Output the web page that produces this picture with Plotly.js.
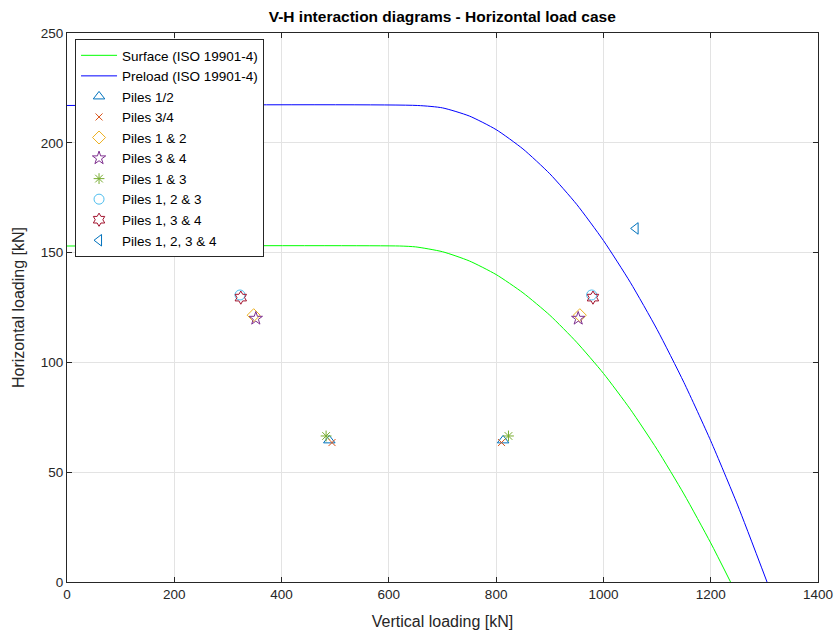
<!DOCTYPE html>
<html>
<head>
<meta charset="utf-8">
<script src="https://cdn.plot.ly/plotly-3.0.1.min.js"></script>
<style>html,body{margin:0;padding:0;background:#fff;}#chart{width:836px;height:634px;}</style>
</head>
<body>
<div id="chart"></div>
<script>
// Interaction curves
var surfaceV = [0, 620, 650, 700, 750, 800, 850, 900, 950, 1000, 1050, 1100, 1150, 1200, 1237];
var surfaceH = [153, 153, 152.6, 150.4, 146.2, 140.0, 131.7, 121.5, 109.2, 95.0, 78.7, 60.4, 40.1, 17.8, 0];
var preloadV = [0, 653, 700, 750, 800, 850, 900, 950, 1000, 1050, 1100, 1150, 1200, 1250, 1305];
var preloadH = [217, 217, 215.9, 212.2, 206.0, 197.2, 185.9, 172.0, 155.5, 136.5, 115.0, 90.9, 64.3, 35.1, 0];

// Pile load points
var piles12V = [489, 813];   var piles12H = [64.5, 64.5];
var piles34V = [494, 810];   var piles34H = [63.5, 63.5];
var piles1and2V = [348, 956]; var piles1and2H = [121.5, 121.5];
var piles3and4V = [352, 953]; var piles3and4H = [120, 120];
var piles1and3V = [483, 823]; var piles1and3H = [66.5, 66.5];
var piles123V = [322.5, 978]; var piles123H = [130.7, 130.7];
var piles134V = [324, 980.5]; var piles134H = [129.5, 129.5];
var piles1234V = [1060];      var piles1234H = [161];

var xTicks = [0, 200, 400, 600, 800, 1000, 1200, 1400];
var yTicks = [0, 50, 100, 150, 200, 250];

function pts(name, x, y, symbol, color, size) {
  return {type: 'scatter', mode: 'markers', name: name, x: x, y: y,
    marker: {symbol: symbol, size: size, color: color, line: {color: color, width: 1}}};
}

var traces = [
  {type: 'scatter', mode: 'lines', name: 'Surface (ISO 19901-4)', x: surfaceV, y: surfaceH,
   line: {color: '#00ff00', width: 1, shape: 'spline', smoothing: 0.6}},
  {type: 'scatter', mode: 'lines', name: 'Preload (ISO 19901-4)', x: preloadV, y: preloadH,
   line: {color: '#0000ff', width: 1, shape: 'spline', smoothing: 0.6}},
  pts('Piles 1/2', piles12V, piles12H, 'triangle-up-open', '#0072BD', 10),
  pts('Piles 3/4', piles34V, piles34H, 'x-thin-open', '#D95319', 7),
  pts('Piles 1 &amp; 2', piles1and2V, piles1and2H, 'diamond-open', '#EDB120', 10),
  pts('Piles 3 &amp; 4', piles3and4V, piles3and4H, 'star-open', '#7E2F8E', 10),
  pts('Piles 1 &amp; 3', piles1and3V, piles1and3H, 'asterisk-open', '#77AC30', 9),
  pts('Piles 1, 2 &amp; 3', piles123V, piles123H, 'circle-open', '#4DBEEE', 10),
  pts('Piles 1, 3 &amp; 4', piles134V, piles134H, 'hexagram-open', '#A2142F', 10),
  pts('Piles 1, 2, 3 &amp; 4', piles1234V, piles1234H, 'triangle-left-open', '#0072BD', 10)
];

var axCommon = {
  showline: true, linecolor: '#262626', linewidth: 1, mirror: 'ticks',
  ticks: 'inside', ticklen: 5, tickcolor: '#262626', tickwidth: 1,
  showgrid: true, gridcolor: '#e3e3e3', gridwidth: 1, zeroline: false,
  tickfont: {family: 'Liberation Sans, Arial, sans-serif', size: 13.5, color: '#262626'}
};

var layout = {
  width: 836, height: 634,
  margin: {l: 67, r: 18, t: 33, b: 52},
  paper_bgcolor: '#ffffff', plot_bgcolor: '#ffffff',
  font: {family: 'Liberation Sans, Arial, sans-serif', color: '#262626'},
  title: {text: '<b>V-H interaction diagrams - Horizontal load case</b>',
          font: {size: 15.5, color: '#000000'}, xref: 'container', yref: 'container',
          x: 0.529, xanchor: 'center', y: 0.983, yanchor: 'top'},
  xaxis: Object.assign({}, axCommon, {
    range: [0, 1400], tickvals: xTicks, ticktext: xTicks.map(String),
    title: {text: 'Vertical loading [kN]', font: {size: 16, color: '#262626'}, standoff: 14}
  }),
  yaxis: Object.assign({}, axCommon, {
    range: [0, 250], tickvals: yTicks, ticktext: yTicks.map(String),
    title: {text: 'Horizontal loading [kN]', font: {size: 16, color: '#262626'}, standoff: 12}
  }),
  showlegend: true,
  legend: {x: 0.0107, y: 0.989, xanchor: 'left', yanchor: 'top',
           bgcolor: '#ffffff', bordercolor: '#262626', borderwidth: 1,
           itemwidth: 36, entrywidth: 160,
           font: {size: 13.5, color: '#000000'}, tracegroupgap: 0}
};

Plotly.newPlot('chart', traces, layout, {displayModeBar: false, staticPlot: true});
</script>
</body>
</html>
